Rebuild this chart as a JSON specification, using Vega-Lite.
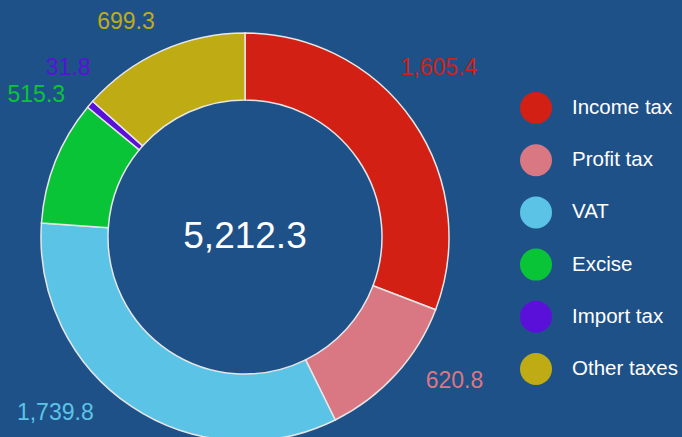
{
  "$schema": "https://vega.github.io/schema/vega-lite/v6.json",
  "width": 490,
  "height": 474,
  "autosize": "none",
  "padding": {"left": 0, "top": 0, "right": 192, "bottom": 0},
  "background": "#1f5189",
  "config": {"view": {"stroke": null}, "font": "Liberation Sans"},
  "datasets": {
    "taxes": [
      {"n": 1, "category": "Income tax", "value": 1605.4},
      {"n": 2, "category": "Profit tax", "value": 620.8},
      {"n": 3, "category": "VAT", "value": 1739.8},
      {"n": 4, "category": "Excise", "value": 515.3},
      {"n": 5, "category": "Import tax", "value": 31.8},
      {"n": 6, "category": "Other taxes", "value": 699.3}
    ],
    "total": [{"total": 5212.3}]
  },
  "layer": [
    {
      "data": {"name": "taxes"},
      "mark": {"type": "arc", "outerRadius": 204, "innerRadius": 137, "stroke": "#e6e6e6", "strokeWidth": 1.5},
      "encoding": {
        "theta": {"field": "value", "type": "quantitative", "stack": true},
        "order": {"field": "n", "type": "quantitative"},
        "color": {
          "field": "category", "type": "nominal",
          "scale": {
            "domain": ["Income tax", "Profit tax", "VAT", "Excise", "Import tax", "Other taxes"],
            "range": ["#d22015", "#d97882", "#5bc4e6", "#0ac437", "#5a10d8", "#bfac14"]
          },
          "legend": {
            "title": null, "orient": "none", "legendX": 520, "legendY": 92,
            "symbolType": "circle", "symbolSize": 1024, "symbolStrokeWidth": 0,
            "symbolOpacity": 1,
            "labelFontSize": 20.5, "labelColor": "#ffffff", "labelFont": "Liberation Sans",
            "labelOffset": 20, "rowPadding": 20.2, "labelLimit": 200
          }
        }
      }
    },
    {
      "data": {"name": "taxes"},
      "mark": {"type": "text", "radius": 230, "thetaOffset": -0.225, "align": "left", "baseline": "middle", "fontSize": 23},
      "encoding": {
        "theta": {"field": "value", "type": "quantitative", "stack": true},
        "order": {"field": "n", "type": "quantitative"},
        "color": {"field": "category", "type": "nominal", "legend": null},
        "text": {"condition": {"test": "datum.category === 'Income tax'", "field": "value", "format": ",.1f"}, "value": ""}
      }
    },
    {
      "data": {"name": "taxes"},
      "mark": {"type": "text", "radius": 231, "thetaOffset": -0.066, "align": "left", "baseline": "middle", "fontSize": 23},
      "encoding": {
        "theta": {"field": "value", "type": "quantitative", "stack": true},
        "order": {"field": "n", "type": "quantitative"},
        "color": {"field": "category", "type": "nominal", "legend": null},
        "text": {"condition": {"test": "datum.category === 'Profit tax'", "field": "value", "format": ",.1f"}, "value": ""}
      }
    },
    {
      "data": {"name": "taxes"},
      "mark": {"type": "text", "radius": 232, "thetaOffset": 0.12, "align": "right", "baseline": "middle", "fontSize": 23},
      "encoding": {
        "theta": {"field": "value", "type": "quantitative", "stack": true},
        "order": {"field": "n", "type": "quantitative"},
        "color": {"field": "category", "type": "nominal", "legend": null},
        "text": {"condition": {"test": "datum.category === 'VAT'", "field": "value", "format": ",.1f"}, "value": ""}
      }
    },
    {
      "data": {"name": "taxes"},
      "mark": {"type": "text", "radius": 229, "thetaOffset": 0.288, "align": "right", "baseline": "middle", "fontSize": 23},
      "encoding": {
        "theta": {"field": "value", "type": "quantitative", "stack": true},
        "order": {"field": "n", "type": "quantitative"},
        "color": {"field": "category", "type": "nominal", "legend": null},
        "text": {"condition": {"test": "datum.category === 'Excise'", "field": "value", "format": ",.1f"}, "value": ""}
      }
    },
    {
      "data": {"name": "taxes"},
      "mark": {"type": "text", "radius": 229, "thetaOffset": 0.122, "align": "right", "baseline": "middle", "fontSize": 23},
      "encoding": {
        "theta": {"field": "value", "type": "quantitative", "stack": true},
        "order": {"field": "n", "type": "quantitative"},
        "color": {"field": "category", "type": "nominal", "legend": null},
        "text": {"condition": {"test": "datum.category === 'Import tax'", "field": "value", "format": ",.1f"}, "value": ""}
      }
    },
    {
      "data": {"name": "taxes"},
      "mark": {"type": "text", "radius": 233, "thetaOffset": 0.024, "align": "right", "baseline": "middle", "fontSize": 23},
      "encoding": {
        "theta": {"field": "value", "type": "quantitative", "stack": true},
        "order": {"field": "n", "type": "quantitative"},
        "color": {"field": "category", "type": "nominal", "legend": null},
        "text": {"condition": {"test": "datum.category === 'Other taxes'", "field": "value", "format": ",.1f"}, "value": ""}
      }
    },
    {
      "data": {"name": "total"},
      "mark": {"type": "text", "align": "center", "baseline": "middle", "fontSize": 37, "color": "#ffffff"},
      "encoding": {
        "text": {"field": "total", "type": "quantitative", "format": ",.1f"}
      }
    }
  ]
}
